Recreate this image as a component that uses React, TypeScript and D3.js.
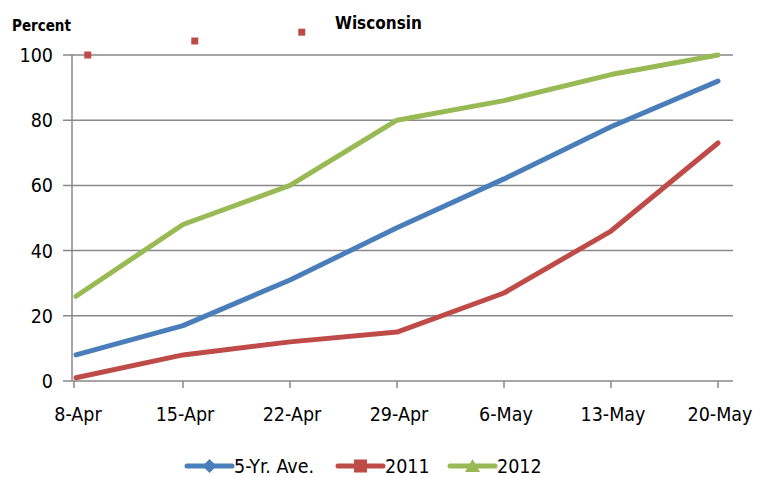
import React from "react";
import * as d3 from "d3";

const categories = ["8-Apr", "15-Apr", "22-Apr", "29-Apr", "6-May", "13-May", "20-May"];
const fiveYrAve = [8, 17, 31, 47, 62, 78, 92];
const y2011 = [1, 8, 12, 15, 27, 46, 73];
const y2012 = [26, 48, 60, 80, 86, 94, 100];
const strayMarkers = [100, 104.3, 107];
const yTicks = [0, 20, 40, 60, 80, 100];

const seriesNames = ["5-Yr. Ave.", "2011", "2012"];
const colors = ["#4a7ebb", "#be4b48", "#98b954"];

const FONT = "'Liberation Sans Narrow', 'DejaVu Sans Condensed', 'Open Sans', sans-serif";

export default function App() {
  const W = 764, H = 478;
  const x = d3.scalePoint<string>().domain(categories).range([76, 718]);
  const y = d3.scaleLinear().domain([0, 100]).range([381, 55]);
  const line = d3
    .line<number>()
    .x((_, i) => x(categories[i]) as number)
    .y((d) => y(d));
  const series = [fiveYrAve, y2011, y2012];
  const step = x.step();

  return (
    <svg width={W} height={H} style={{ position: "absolute", left: 0, top: 0, background: "#fff" }}>
      <text x={12} y={31} fontFamily={FONT} fontWeight="bold" fontSize={15}>Percent</text>
      <text x={335} y={29} fontFamily={FONT} fontWeight="bold" fontSize={17}>Wisconsin</text>
      {yTicks.map((t) => (
        <g key={t}>
          <line x1={63} x2={733} y1={y(t)} y2={y(t)} stroke="#888" strokeWidth={1.5} />
          <text x={53} y={y(t) + 7} textAnchor="end" fontFamily={FONT} fontSize={19.5}>{t}</text>
        </g>
      ))}
      <line x1={72} x2={72} y1={55} y2={381} stroke="#888" strokeWidth={1.5} />
      {categories.map((c, i) => {
        const xx = i === 0 ? 74 : (x(c) as number);
        return (
          <g key={c}>
            <line x1={xx} x2={xx} y1={381} y2={388} stroke="#888" strokeWidth={1.5} />
            <text x={(x(c) as number) + 2} y={421} textAnchor="middle" fontFamily={FONT} fontSize={19.5}>{c}</text>
          </g>
        );
      })}
      {series.map((s, k) => (
        <path key={k} d={line(s) || ""} fill="none" stroke={colors[k]} strokeWidth={5} strokeLinecap="round" strokeLinejoin="round" />
      ))}
      {strayMarkers.map((v, i) => (
        <rect key={i} x={(x(categories[i]) as number) + step * 0.11 - 3.5} y={y(v) - 3.5} width={7} height={7} fill={colors[1]} />
      ))}
      {seriesNames.map((n, k) => {
        const lx = [187, 338, 450][k];
        const cy = 466;
        return (
          <g key={n}>
            <line x1={lx} x2={lx + 45} y1={cy} y2={cy} stroke={colors[k]} strokeWidth={5} strokeLinecap="round" />
            {k === 0 && <path d={`M${lx + 22.5},${cy - 7} L${lx + 29.5},${cy} L${lx + 22.5},${cy + 7} L${lx + 15.5},${cy} Z`} fill={colors[k]} />}
            {k === 1 && <rect x={lx + 16} y={cy - 6.5} width={13} height={13} fill={colors[k]} />}
            {k === 2 && <path d={`M${lx + 22.5},${cy - 7} L${lx + 30},${cy + 6} L${lx + 15},${cy + 6} Z`} fill={colors[k]} />}
            <text x={lx + 47} y={cy + 7} fontFamily={FONT} fontSize={19.5}>{n}</text>
          </g>
        );
      })}
    </svg>
  );
}
